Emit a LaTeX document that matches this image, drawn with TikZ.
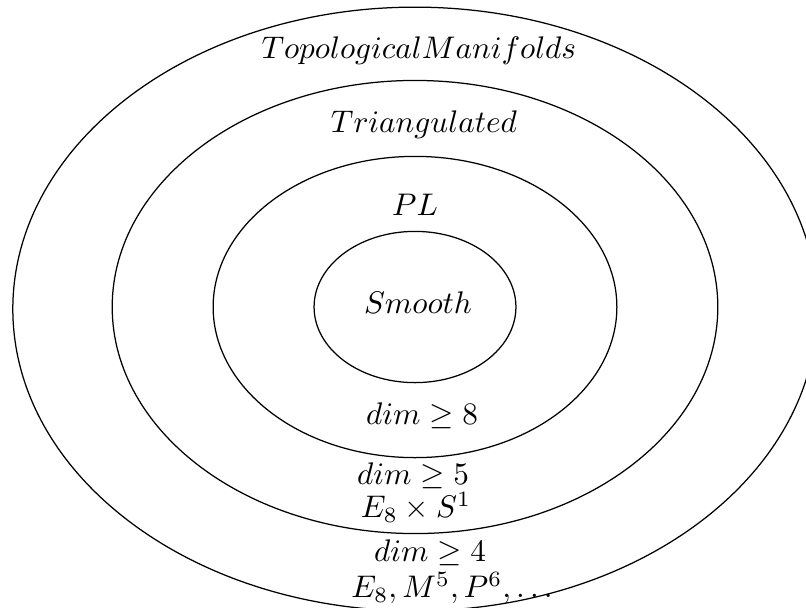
\documentclass[tikz,border=0pt]{standalone}
\begin{document}
\begin{tikzpicture}[x=0.32pt,y=-0.32pt,
  ring/.style={draw=black,line width=0.4pt},
  lbl/.style={inner sep=0pt,font=\normalsize}]
\useasboundingbox (0,0) rectangle (806,607);
\clip (0,0) rectangle (806,607);
\coordinate (c) at (415,307);
\coordinate (co) at (415,309);
\draw[ring] (co) ellipse [x radius=128.7pt, y radius=96.6pt];
\draw[ring] (c) ellipse [x radius=96.9pt, y radius=72.5pt];
\draw[ring] (c) ellipse [x radius=64.6pt, y radius=48.2pt];
\draw[ring] (c) ellipse [x radius=32.3pt, y radius=24.2pt];
\node[lbl] (top) at (419,51) {$Topological Manifolds$};
\node[lbl] (tri) at (424,125) {$Triangulated$};
\node[lbl] (pl) at (415,205) {$PL$};
\node[lbl] (sm) at (418,303) {$Smooth$};
\node[lbl] (d8) at (422,416) {$dim \geq 8$};
\node[lbl] (d5) at (413,476) {$dim \geq 5$};
\node[lbl] (es) at (416,507) {$E_8 \times S^1$};
\node[lbl] (d4) at (430,553) {$dim \geq 4$};
\node[lbl] (ex) at (452,588) {$E_8, M^5, P^6, \ldots$};
\end{tikzpicture}
\end{document}
